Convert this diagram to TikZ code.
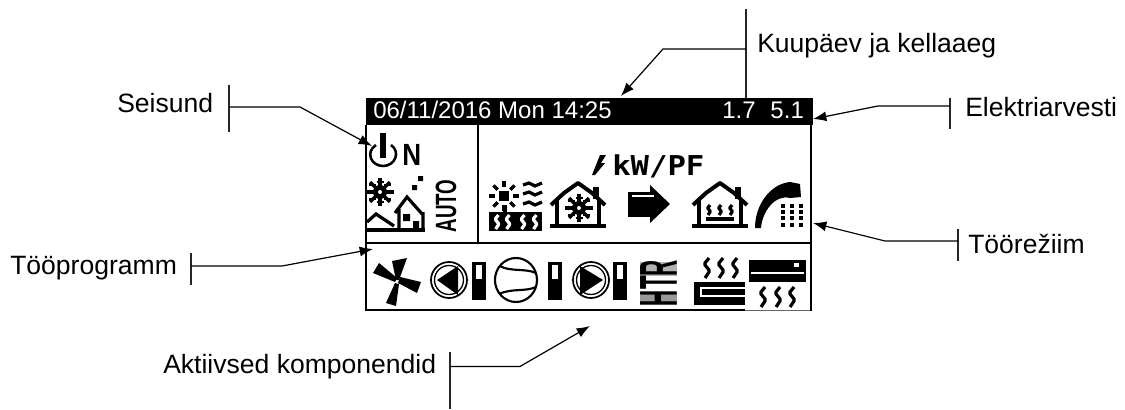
\documentclass[tikz,border=0pt]{standalone}
\usepackage{fontspec}
\setmainfont{Liberation Sans}
\newfontfamily\lcdfont{DejaVu Sans Mono}
\usetikzlibrary{arrows.meta}
\tikzset{
  tag/.style = {anchor=base west, inner sep=0pt, font=\fontsize{19.9}{24}\selectfont},
  lcdtext/.style = {anchor=base west, inner sep=0pt, text=white, font=\fontsize{18}{22}\selectfont},
  tick/.style = {line width=.9pt, black!85},
  lead/.style = {line width=.9pt, -{Latex[length=10pt,width=7.5pt]}},
  pix/.style = {line width=2.4pt},
  fine/.style = {line width=1.6pt},
  pics/flake/.style = {code={
    \fill (0,0) circle (7);
    \foreach \a in {0,45,...,315} {
      \draw[pix] (0,0) -- (\a:14);
      \draw[fine] ([shift={(\a:10)}]-3.5,0) -- ([shift={(\a:10)}]3.5,0);
    }
    \fill[white] (0,0) circle (2);
  }},
  pics/squig/.style = {code={
    \draw[pix] (2,0) -- (-2,5) -- (-2,7) -- (2,12) -- (2,14) -- (-2,20);
  }},
  pics/house/.style = {code={
    \draw[line width=3pt, line join=bevel] (-27,23) -- (-14,11) -- (0,1) -- (14,11) -- (27,23);
    \draw[pix] (-21,18) -- (-21,44) (21,18) -- (21,44);
    \draw[line width=2.6pt] (-28,44) -- (28,44);
    \fill (15,5) rectangle (21,17);
  }},
  pics/pump/.style = {code={
    \draw[line width=1.3pt] (0,0) circle (18);
    \draw[line width=1pt] (0,0) circle (14.5);
  }},
  pics/bar/.style = {code={
    \fill (0,0) rectangle (14,38);
    \fill[white] (4,3) rectangle (10,17);
  }}
}
\begin{document}
\begin{tikzpicture}[x=.75pt, y=-.75pt]
  \useasboundingbox (0,0) rectangle (1125,410);
  % panel
  \fill (366,98) rectangle (813,125);
  \draw[line width=1.6pt] (366,125) -- (366,310) -- (745,310);
  \draw[line width=.5pt, black!60] (745,310) -- (811,310);
  \draw[line width=2pt] (811,125) -- (811,311);
  \draw[line width=1pt] (478,125) -- (478,243);
  \draw[line width=1pt] (366,243) -- (811,243);
  \node[lcdtext] (clock) at (373,118) {06/11/2016 Mon 14:25};
  \node[lcdtext] (meter) at (722,118) {1.7\hspace{.62em}5.1};
  % status
  \draw[line width=1.9pt] (376,145) .. controls (365,152) and (371,166) .. (383,166) .. controls (395,166) and (401,152) .. (391,145);
  \fill (380,133) rectangle (386,158);
  \node[anchor=base west, inner sep=0pt, font=\bfseries\fontsize{23}{26}\selectfont] (on) at (402,165) {\scalebox{.85}[1]{N}};
  \pic at (380,192) {flake};
  \fill (418,176) rectangle (423,181) (412,185) rectangle (417,190);
  \draw[pix] (367,222) -- (376,214) -- (394,226);
  \draw[line width=2.6pt] (367,230) -- (425,230);
  \draw[pix] (395,213) -- (407,197) -- (423,215) (399,209) -- (399,229) (423,212) -- (423,229);
  \fill (403,214) rectangle (410,221) (413,221) rectangle (419,229);
  \node[rotate=90, inner sep=0pt, font=\bfseries\fontsize{22}{24}\selectfont] (auto) at (446,206) {\scalebox{.64}[1]{AUTO}};
  % mode
  \fill (592,175) -- (600,155) -- (606,155) -- (601,163) -- (605,163) -- (595,175) -- cycle;
  \node[anchor=base west, inner sep=0pt, font=\lcdfont\bfseries\fontsize{20.5}{24}\selectfont] (power) at (612,175) {\scalebox{1.12}[1]{kW/PF}};
  \fill (499,191) rectangle (509,201);
  \foreach \a in {0,45,...,315} \draw[pix] (504,196) ++(\a:9) -- ++(\a:6);
  \draw[pix] (505,205) -- (505,212);
  \foreach \y in {185,194,204} \draw[pix] (523,\y) -- (529,\y-2) -- (535,\y+1) -- (542,\y-2);
  \fill (489,212) rectangle (542,231);
  \foreach \x in {497,508,523,535} \pic[white, scale=.7] at (\x,215) {squig};
  \pic at (578,182) {house};
  \pic at (579,208) {flake};
  \fill (628,192) rectangle (650,217);
  \fill (650,185) -- (670,204) -- (650,223) -- cycle;
  \draw[white, line width=1pt] (632,196) -- (654,196);
  \pic at (720,182) {house};
  \foreach \x in {709,720,731} \pic[scale=.5] at (\x,205) {squig};
  \draw[pix] (706,219) -- (734,219);
  \fill (755,228) .. controls (755,205) and (770,184) .. (790,182) -- (800,184) -- (801,197) -- (790,198) .. controls (775,194) and (762,212) .. (761,228) -- cycle;
  \foreach \x in {783,792,801} \foreach \y in {206,212,218,225} \fill (\x-2,\y-2) rectangle (\x+2,\y+2);
  % components
  \fill (392,261) -- (407,258) -- (399,280) -- (396,280) -- cycle;
  \fill (400,277) -- (421,282) -- (417,293) -- (398,283) -- cycle;
  \fill (399,284) -- (396,306) -- (386,303) -- (395,283) -- cycle;
  \fill (395,282) -- (373,273) -- (379,263) -- (397,278) -- cycle;
  \pic at (449,280) {pump};
  \fill (437,280) -- (458,266) -- (458,295) -- cycle;
  \pic at (472,262) {bar};
  \draw[fine] (516,280) ellipse (21 and 22);
  \draw[fine] (500,266) .. controls (510,272) and (525,268) .. (536,273);
  \draw[fine] (499,294) .. controls (512,288) and (525,292) .. (536,287);
  \pic at (548,262) {bar};
  \pic at (591,280) {pump};
  \fill (603,280) -- (580,266) -- (580,295) -- cycle;
  \pic at (613,262) {bar};
  \fill[black!40] (640,293) rectangle (677,305);
  \fill[black!30] (640,262) rectangle (677,276);
  \node[rotate=90, inner sep=0pt, font=\bfseries\fontsize{40}{44}\selectfont] (heater) at (658.5,283) {\scalebox{.42}[1]{HTR}};
  \foreach \x in {707,721,735} \pic at (\x,258) {squig};
  \fill (694,282) rectangle (745,305);
  \draw[white, line width=1.2pt] (745,288) -- (701,288) -- (701,296) -- (745,296);
  \fill (749,260) rectangle (806,282);
  \draw[white, line width=1.8pt] (751,273) -- (804,273);
  \fill[white] (794,263) rectangle (799,267);
  \foreach \x in {763,778,792} \pic at (\x,287) {squig};
  % labels
  \node[tag] (state) at (117,113) {Seisund};
  \node[tag] (program) at (10,274) {Tööprogramm};
  \node[tag] (parts) at (163,373) {Aktiivsed komponendid};
  \node[tag] (date) at (757,53) {Kuupäev ja kellaaeg};
  \node[tag] (energy) at (965,117) {Elektriarvesti};
  \node[tag] (mode) at (968,253) {Töörežiim};
  % connectors
  \draw[tick] (229,85) -- (229,132);
  \coordinate (statefoot) at (229,107);
  \coordinate (stateknee) at (300,107);
  \coordinate (statetip) at (372,146);
  \draw[lead] (statefoot) -- (stateknee) -- (statetip);
  \draw[tick] (191,253) -- (191,285);
  \coordinate (progfoot) at (191,266);
  \coordinate (progknee) at (282,266);
  \coordinate (progtip) at (373,249);
  \draw[lead] (progfoot) -- (progknee) -- (progtip);
  \draw[tick] (450,352) -- (450,409);
  \coordinate (partsfoot) at (450,366.5);
  \coordinate (partsknee) at (520,366.5);
  \coordinate (partstip) at (590,326);
  \draw[lead] (partsfoot) -- (partsknee) -- (partstip);
  \draw[tick] (746,9) -- (746,98);
  \coordinate (datefoot) at (746,49);
  \coordinate (dateknee) at (663,49);
  \coordinate (datetip) at (621,96);
  \draw[lead] (datefoot) -- (dateknee) -- (datetip);
  \draw[tick] (950,98) -- (950,129);
  \coordinate (energyfoot) at (950,106);
  \coordinate (energyknee) at (878,106);
  \coordinate (energytip) at (813,119);
  \draw[lead] (energyfoot) -- (energyknee) -- (energytip);
  \draw[tick] (958,229) -- (958,261);
  \coordinate (modefoot) at (958,241);
  \coordinate (modeknee) at (885,241);
  \coordinate (modetip) at (813,223);
  \draw[lead] (modefoot) -- (modeknee) -- (modetip);
\end{tikzpicture}
\end{document}
